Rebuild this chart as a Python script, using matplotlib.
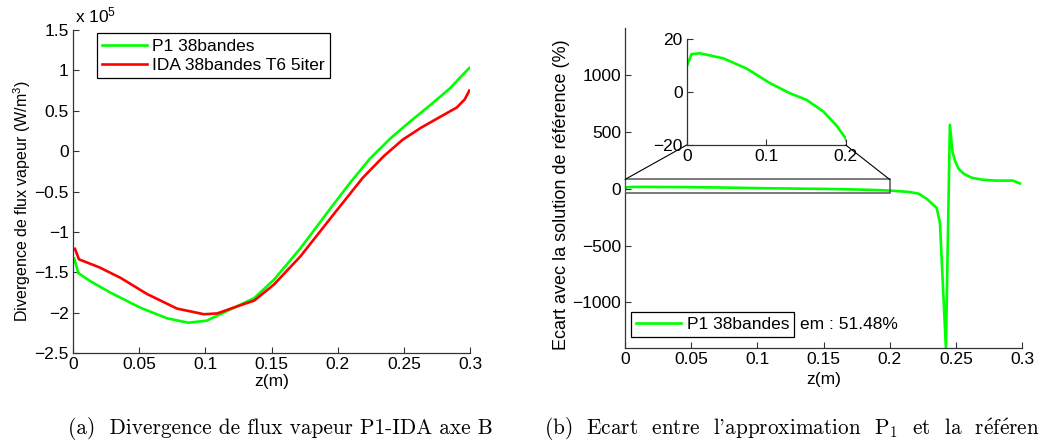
import matplotlib
matplotlib.use('Agg')
import matplotlib.pyplot as plt
from matplotlib.patches import Rectangle, ConnectionPatch
from matplotlib.ticker import FuncFormatter

# (a) divergence de flux vapeur, en 1e5 W/m3
z_p1 = [0.001, 0.004, 0.013, 0.028, 0.051, 0.071, 0.087, 0.101, 0.119, 0.137,
        0.152, 0.172, 0.195, 0.209, 0.224, 0.240, 0.255, 0.270, 0.285, 0.293, 0.2995]
div_p1 = [-1.33, -1.51, -1.61, -1.75, -1.94, -2.07, -2.125, -2.10, -1.96, -1.82,
          -1.59, -1.20, -0.70, -0.40, -0.10, 0.16, 0.37, 0.57, 0.78, 0.92, 1.03]

z_ida = [0.0015, 0.0045, 0.020, 0.036, 0.056, 0.0786, 0.099, 0.109, 0.121, 0.137,
         0.152, 0.172, 0.199, 0.219, 0.235, 0.249, 0.263, 0.277, 0.290, 0.296, 0.2995]
div_ida = [-1.21, -1.34, -1.44, -1.57, -1.77, -1.95, -2.02, -2.01, -1.94, -1.85,
           -1.65, -1.30, -0.74, -0.33, -0.06, 0.14, 0.29, 0.42, 0.54, 0.64, 0.75]

# (b) ecart P1 / reference (%)
z_ecart = [0.0, 0.006, 0.0167, 0.046, 0.075, 0.105, 0.13, 0.151, 0.172, 0.188,
           0.2, 0.215, 0.222, 0.228, 0.2355, 0.238, 0.2425, 0.2455, 0.2475, 0.2495,
           0.252, 0.256, 0.262, 0.27, 0.28, 0.293, 0.2985]
ecart = [9.5, 14.3, 14.6, 12.7, 8.9, 3.3, -0.5, -3, -7.4, -12.5,
         -17.5, -30, -45, -90, -170, -300, -1400, 560, 320, 240,
         175, 130, 95, 78, 70, 70, 45]

x_ticks = [0, 0.05, 0.1, 0.15, 0.2, 0.25, 0.3]
em_text = 'em : 51.48%'

plt.rcParams['font.family'] = ['Liberation Sans', 'DejaVu Sans']
plt.rcParams['font.size'] = 12.5
plt.rcParams['mathtext.fontset'] = 'custom'
plt.rcParams['mathtext.rm'] = 'Liberation Sans'
plt.rcParams['mathtext.it'] = 'Liberation Sans:italic'
plt.rcParams['mathtext.default'] = 'regular'


def tick_fmt(v, p):
    if abs(v) < 1e-12:
        return '0'
    return ('%g' % v).replace('-', '\u2212')


fmt = FuncFormatter(tick_fmt)


def matlab_style(ax):
    ax.spines['top'].set_visible(False)
    ax.spines['right'].set_visible(False)
    for s in ('left', 'bottom'):
        ax.spines[s].set_color('#333333')
        ax.spines[s].set_linewidth(0.9)
    ax.tick_params(direction='in', length=4, width=0.8, color='#333333', pad=3)
    ax.xaxis.set_major_formatter(fmt)
    ax.yaxis.set_major_formatter(fmt)


fig = plt.figure(figsize=(10.39, 4.42), dpi=100)
W, H = 1039, 442

# ---- (a) ----
ax1 = fig.add_axes([73 / W, 1 - 353 / H, 397 / W, 323 / H])
ax1.plot(z_p1, div_p1, color=(0, 1, 0), lw=1.9, label='P1 38bandes')
ax1.plot(z_ida, div_ida, color=(1, 0, 0), lw=1.9, label='IDA 38bandes T6 5iter')
ax1.set_xlim(0, 0.3)
ax1.set_ylim(-2.5, 1.5)
ax1.set_xticks(x_ticks)
ax1.set_yticks([-2.5, -2, -1.5, -1, -0.5, 0, 0.5, 1, 1.5])
matlab_style(ax1)
ax1.set_xlabel('z(m)')
ax1.xaxis.set_label_coords(0.5, -0.065)
ax1.set_ylabel('Divergence de flux vapeur (W/m$^3$)', fontsize=11.5)
ax1.yaxis.set_label_coords(-0.1, 0.47)
leg1 = ax1.legend(loc='upper left', bbox_to_anchor=(0.06, 0.99), borderaxespad=0,
                  fancybox=False, framealpha=1, edgecolor='black',
                  handlelength=2.6, handletextpad=0.3, borderpad=0.3, labelspacing=0.25)
leg1.get_frame().set_linewidth(0.9)
ax1.text(0.005, 1.045, 'x 10$^5$', transform=ax1.transAxes, fontsize=12.5,
         ha='left', va='center')

# ---- (b) ----
ax2 = fig.add_axes([625 / W, 1 - 348 / H, 397 / W, 320 / H])
ax2.plot(z_ecart, ecart, color=(0, 1, 0), lw=1.9, label='P1 38bandes')
ax2.set_xlim(0, 0.3)
ax2.set_ylim(-1400, 1410)
ax2.set_xticks(x_ticks)
ax2.set_yticks([-1000, -500, 0, 500, 1000])
matlab_style(ax2)
ax2.set_xlabel('z(m)')
ax2.xaxis.set_label_coords(0.5, -0.075)
ax2.set_ylabel('Ecart avec la solution de référence (%)', fontsize=13)
ax2.yaxis.set_label_coords(-0.139, 0.48)
leg2 = ax2.legend(loc='lower left', bbox_to_anchor=(0.015, 0.034), borderaxespad=0,
                  fancybox=False, framealpha=1, edgecolor='black',
                  handlelength=2.6, handletextpad=0.3, borderpad=0.3)
leg2.get_frame().set_linewidth(0.9)
ax2.text(0.44, 0.073, em_text, transform=ax2.transAxes, ha='left', va='center')

# zoom box + inset
rect = Rectangle((0, -40), 0.2, 120, facecolor='none', edgecolor='#555555', lw=1.1,
                 zorder=3)
ax2.add_patch(rect)

axins = fig.add_axes([686.7 / W, 1 - 145 / H, 159 / W, 106 / H])
axins.plot(z_ecart, ecart, color=(0, 1, 0), lw=1.9)
axins.set_xlim(0, 0.2)
axins.set_ylim(-20, 20)
axins.set_xticks([0, 0.1, 0.2])
axins.set_yticks([-20, 0, 20])
matlab_style(axins)
axins.patch.set_alpha(0)

for xa, xb in ((0, 0), (0.2, 0.2)):
    con = ConnectionPatch(xyA=(xa, 80), coordsA=ax2.transData,
                          xyB=(xb, -20), coordsB=axins.transData,
                          color='black', lw=0.8)
    fig.add_artist(con)

# captions
cap_font = ['cmr10', 'DejaVu Serif']
fig.text(68 / W, 1 - 428 / H, '(a)  Divergence de flux vapeur P1-IDA axe B',
         family=cap_font, fontsize=15.3, ha='left', va='center')
fig.text(544 / W, 1 - 428 / H,
         r"(b)  Ecart  entre  l'approximation  P$_1$  et  la  r$\acute{\mathrm{e}}$f$\acute{\mathrm{e}}$rence",
         family=cap_font, math_fontfamily='cm', fontsize=15.3,
         ha='left', va='center')

fig.savefig('out.png', dpi=100)
